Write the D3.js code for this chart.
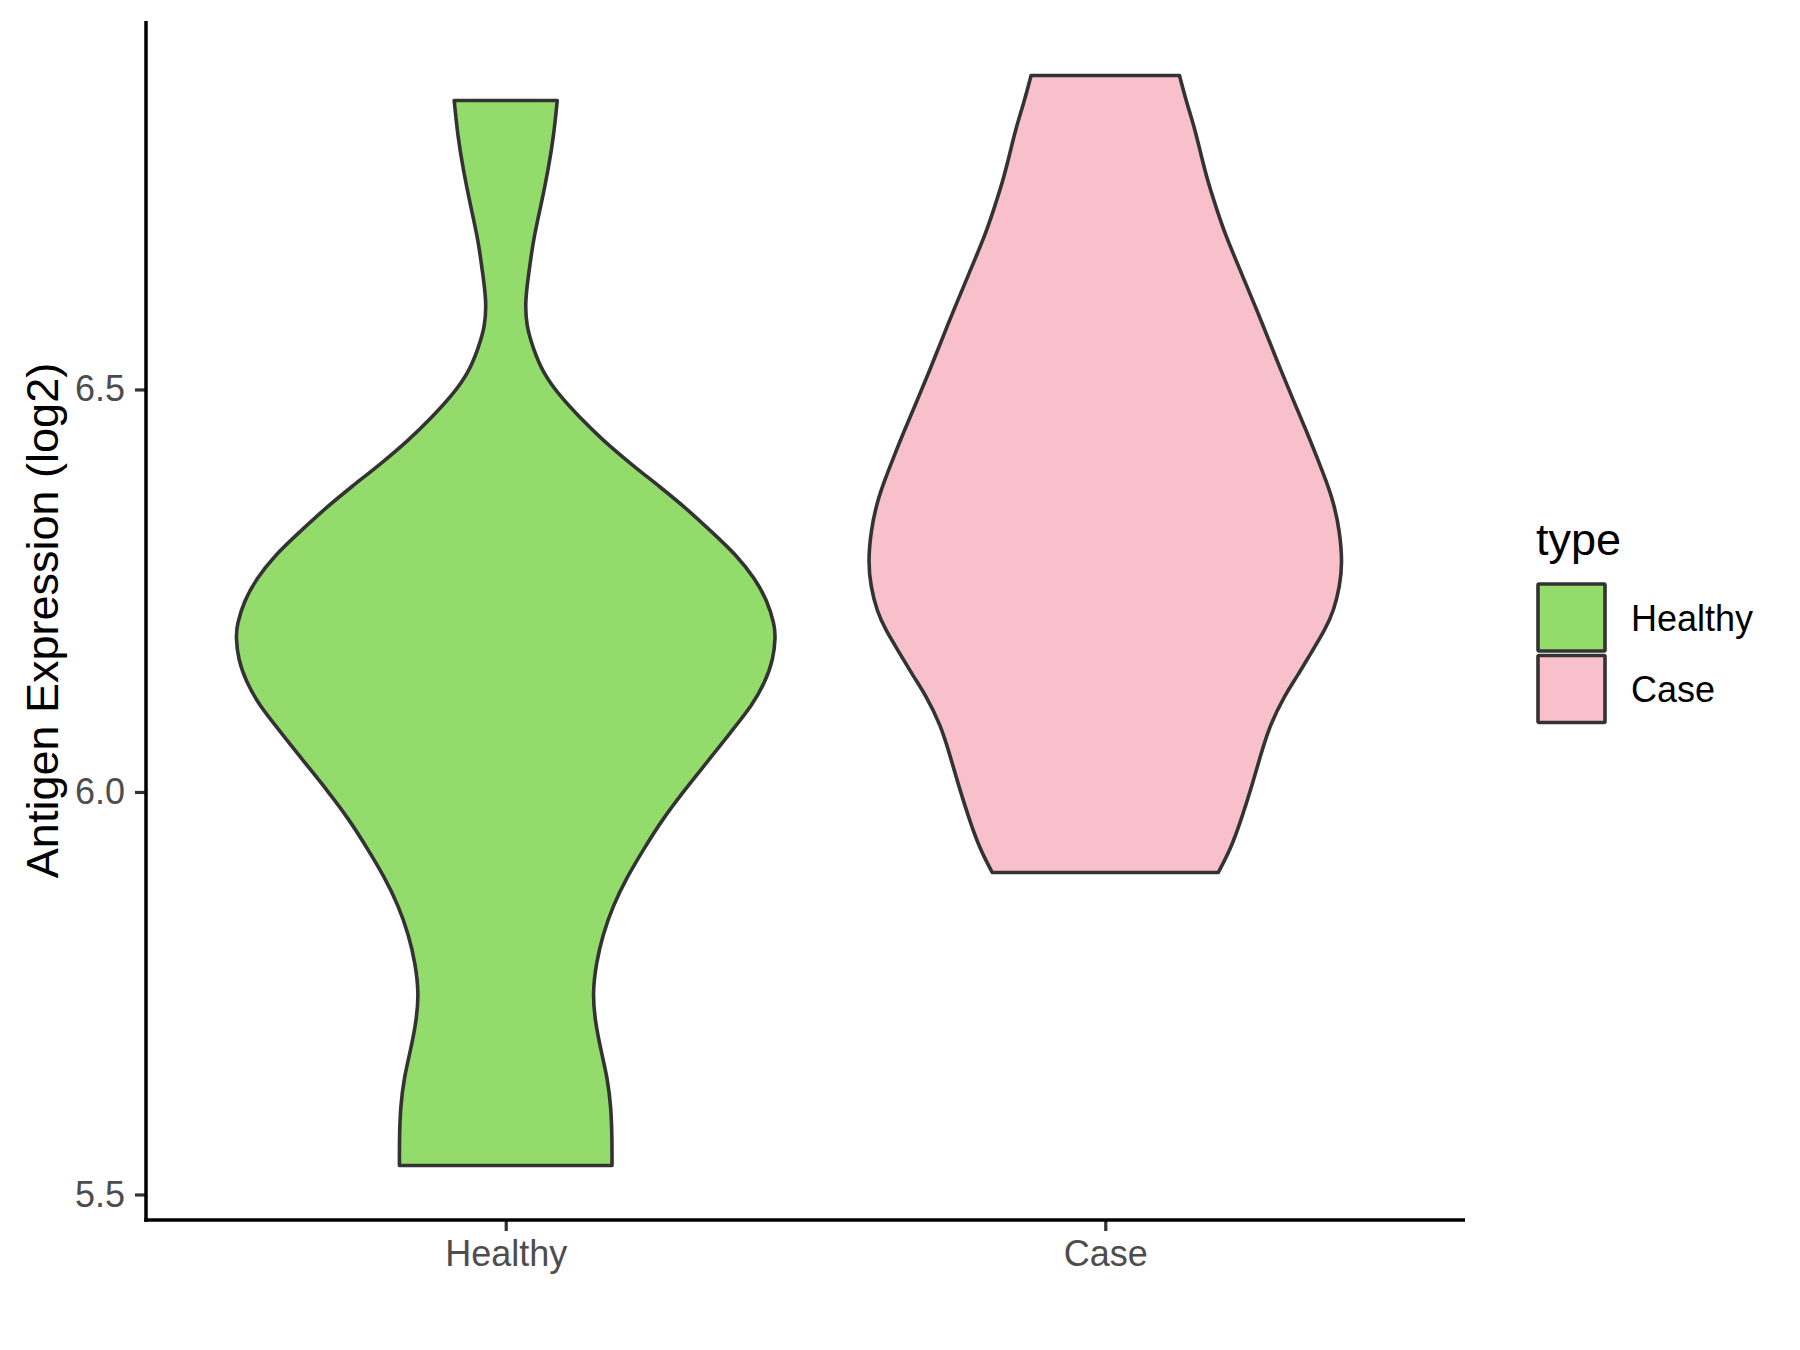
<!DOCTYPE html>
<html>
<head>
<meta charset="utf-8">
<script src="https://cdn.jsdelivr.net/npm/d3@7"></script>
<style>
    body { margin: 0; background: #fff; }
    svg text { font-family: "Liberation Sans", Arial, sans-serif; }
</style>
</head>
<body>
<div id="chart"></div>
<script>
// --------- DATA ---------

const categories = ["Healthy", "Case"];
const fillColors = ["#93DC6B", "#F7C0CB"];

// violin outline: expression value and relative density (max = 1)
const healthyValues  = [6.859, 6.815, 6.772, 6.729, 6.686, 6.643, 6.611, 6.579, 6.551, 6.522,
                        6.494, 6.465, 6.437, 6.408, 6.379, 6.351, 6.322, 6.294, 6.265, 6.237,
                        6.208, 6.193, 6.165, 6.137, 6.108, 6.073, 6.037, 6.000, 5.966, 5.930,
                        5.894, 5.859, 5.823, 5.787, 5.750, 5.716, 5.680, 5.645, 5.609, 5.573, 5.536];
const healthyDensity = [0.191, 0.178, 0.157, 0.131, 0.102, 0.085, 0.072, 0.076, 0.102, 0.136,
                        0.195, 0.275, 0.360, 0.462, 0.572, 0.674, 0.767, 0.856, 0.924, 0.970,
                        0.996, 1.000, 0.992, 0.962, 0.915, 0.831, 0.746, 0.657, 0.581, 0.513,
                        0.449, 0.398, 0.360, 0.335, 0.322, 0.331, 0.352, 0.377, 0.390, 0.394, 0.394];

const caseValues  = [6.890, 6.857, 6.825, 6.790, 6.757, 6.722, 6.692, 6.645, 6.601, 6.565,
                     6.522, 6.485, 6.448, 6.413, 6.387, 6.359, 6.324, 6.285, 6.255, 6.225,
                     6.201, 6.173, 6.144, 6.120, 6.083, 6.046, 6.006, 5.966, 5.930, 5.900];
const caseDensity = [0.275, 0.301, 0.331, 0.356, 0.381, 0.415, 0.445, 0.504, 0.559, 0.602,
                     0.653, 0.699, 0.746, 0.788, 0.818, 0.847, 0.869, 0.879, 0.869, 0.847,
                     0.814, 0.763, 0.712, 0.665, 0.610, 0.576, 0.542, 0.504, 0.466, 0.419];

const yTicks = [5.5, 6.0, 6.5];

// --------- CHART ---------

let margin = {top: 21, right: 335, bottom: 130, left: 146},
    width = 1800 - margin.left - margin.right,
    height = 1350 - margin.top - margin.bottom;

let svg = d3.select("#chart")
    .append("svg")
    .attr("width", 1800)
    .attr("height", 1350);

let graph = svg.append("g")
    .attr("transform", "translate(" + margin.left + "," + margin.top + ")");

let groups = [
    {name: categories[0], values: healthyValues, density: healthyDensity},
    {name: categories[1], values: caseValues, density: caseDensity}
];

// y range with ggplot style 5% expansion
let allVals = healthyValues.concat(caseValues);
let lo = d3.min(allVals), hi = d3.max(allVals), pad = (hi - lo) * 0.05;

let yScale = d3.scaleLinear()
    .domain([lo - pad, hi + pad])
    .range([height, 0]);

let xScale = d3.scalePoint()
    .domain(categories)
    .range([0, width])
    .padding(0.6);

// violin half width: density 1 -> 0.45 of the category step
let wScale = d3.scaleLinear()
    .domain([0, 1])
    .range([0, xScale.step() * 0.45]);

let color = d3.scaleOrdinal().domain(categories).range(fillColors);

// violins
groups.forEach(g => {
    let pts = g.values.map((v, i) => ({v: v, d: g.density[i]}));
    let cx = xScale(g.name);
    let area = d3.area()
        .y(d => yScale(d.v))
        .x0(d => cx - wScale(d.d))
        .x1(d => cx + wScale(d.d))
        .curve(d3.curveBasis);
    graph.append("path")
        .attr("d", area(pts))
        .attr("fill", color(g.name))
        .attr("stroke", "#333333")
        .attr("stroke-width", 3.6)
        .attr("stroke-linejoin", "round");
});

// axes
let yAxis = d3.axisLeft(yScale)
    .tickValues(yTicks)
    .tickFormat(d3.format(".1f"))
    .tickSizeInner(11)
    .tickSizeOuter(0)
    .tickPadding(10);

let xAxis = d3.axisBottom(xScale)
    .tickSizeInner(11)
    .tickSizeOuter(0)
    .tickPadding(9);

let gy = graph.append("g").call(yAxis);
let gx = graph.append("g")
    .attr("transform", "translate(0," + height + ")")
    .call(xAxis);

[gx, gy].forEach(ax => {
    ax.select(".domain").remove();
    ax.selectAll(".tick line").attr("stroke", "#333333").attr("stroke-width", 3.2);
    ax.selectAll(".tick text")
        .attr("fill", "#4D4D4D")
        .style("font-size", "36px");
});

// axis lines (theme_classic)
graph.append("line")
    .attr("x1", 0).attr("x2", 0)
    .attr("y1", 0).attr("y2", height + 1.75)
    .attr("stroke", "#000").attr("stroke-width", 3.5);
graph.append("line")
    .attr("x1", -1.75).attr("x2", width)
    .attr("y1", height).attr("y2", height)
    .attr("stroke", "#000").attr("stroke-width", 3.5);

// y title
svg.append("text")
    .attr("transform", "translate(58," + (margin.top + height / 2) + ") rotate(-90)")
    .attr("text-anchor", "middle")
    .style("font-size", "45px")
    .attr("fill", "#000")
    .text("Antigen Expression (log2)");

// legend
let legend = svg.append("g").attr("transform", "translate(1536,0)");

legend.append("text")
    .attr("x", 0)
    .attr("y", 555)
    .style("font-size", "45px")
    .attr("fill", "#000")
    .text("type");

categories.forEach((c, i) => {
    let top = 584 + i * 71.5;
    legend.append("rect")
        .attr("x", 2)
        .attr("y", top)
        .attr("width", 67)
        .attr("height", 67)
        .attr("fill", color(c))
        .attr("stroke", "#333333")
        .attr("stroke-width", 3.6)
        .attr("rx", 1);
    legend.append("text")
        .attr("x", 95)
        .attr("y", top + 34)
        .attr("dy", "0.35em")
        .style("font-size", "36px")
        .attr("fill", "#000")
        .text(c);
});
</script>
</body>
</html>
